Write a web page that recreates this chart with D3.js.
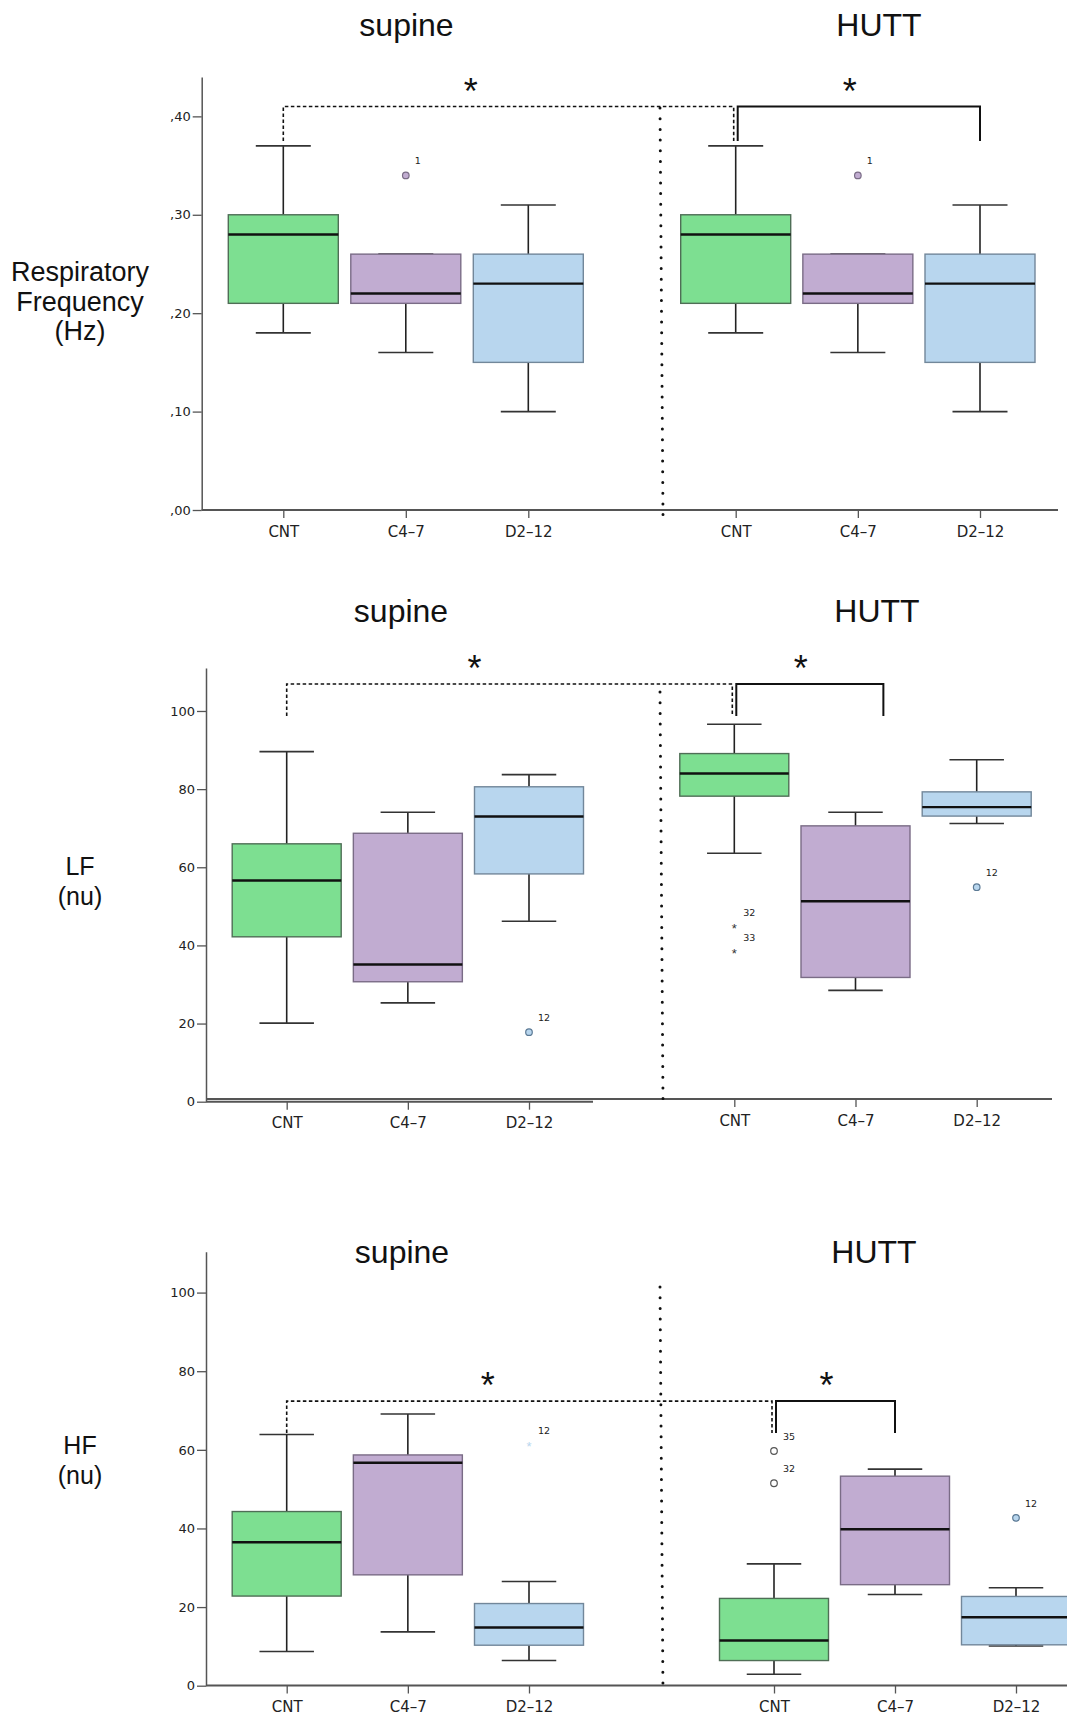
<!DOCTYPE html>
<html>
<head>
<meta charset="utf-8">
<script src="https://cdn.jsdelivr.net/npm/d3@7"></script>
<style>
  body { margin: 0; background: #fff; }
  svg { display: block; }
</style>
</head>
<body>
<svg id="chart" width="1067" height="1719"></svg>
<script>
// ---- data -------------------------------------------------------------
const groups = ["CNT", "C4–7", "D2–12"];
const conditions = ["supine", "HUTT"];

// five-number summaries per group: [lower whisker, Q1, median, Q3, upper whisker]
const respSupine = [[0.18, 0.21, 0.28, 0.30, 0.37], [0.16, 0.21, 0.22, 0.26, 0.26], [0.10, 0.15, 0.23, 0.26, 0.31]];
const respHutt   = [[0.18, 0.21, 0.28, 0.30, 0.37], [0.16, 0.21, 0.22, 0.26, 0.26], [0.10, 0.15, 0.23, 0.26, 0.31]];
const lfSupine   = [[20.1, 42.2, 56.6, 66.0, 89.6], [25.3, 30.7, 35.1, 68.7, 74.1], [46.2, 58.3, 73.0, 80.6, 83.7]];
const lfHutt     = [[63.6, 78.2, 84.0, 89.1, 96.6], [28.5, 31.8, 51.3, 70.6, 74.1], [71.2, 73.1, 75.4, 79.3, 87.5]];
const hfSupine   = [[8.7, 22.8, 36.5, 44.3, 63.9], [13.7, 28.2, 56.7, 58.7, 69.1], [6.4, 10.3, 14.8, 20.9, 26.5]];
const hfHutt     = [[2.9, 6.4, 11.5, 22.2, 31.0], [23.2, 25.7, 39.8, 53.3, 55.1], [10.1, 10.4, 17.4, 22.7, 24.9]];

const respTicks = [0, 0.1, 0.2, 0.3, 0.4];
const nuTicks = [0, 20, 40, 60, 80, 100];

// outlying cases: condition, group, value, case number, marker type
const respOutliers = [
  { cond: "supine", group: "C4–7", value: 0.34, label: "1", mark: "dot" },
  { cond: "HUTT",   group: "C4–7", value: 0.34, label: "1", mark: "dot" }
];
const lfOutliers = [
  { cond: "supine", group: "D2–12", value: 17.8, label: "12", mark: "dot" },
  { cond: "HUTT",   group: "CNT",   value: 44.7, label: "32", mark: "star" },
  { cond: "HUTT",   group: "CNT",   value: 38.2, label: "33", mark: "star" },
  { cond: "HUTT",   group: "D2–12", value: 54.9, label: "12", mark: "dot" }
];
const hfOutliers = [
  { cond: "supine", group: "D2–12", value: 61.2, label: "12", mark: "faint" },
  { cond: "HUTT",   group: "CNT",   value: 59.7, label: "35", mark: "open" },
  { cond: "HUTT",   group: "CNT",   value: 51.5, label: "32", mark: "open" },
  { cond: "HUTT",   group: "D2–12", value: 42.7, label: "12", mark: "dot" }
];

// significance brackets: bracket height and leg end in data units,
// solid bracket end as a group index on the HUTT side, supine star as a group index
const respSig = { level: 0.41, legEnd: 0.375, solidTo: 2, starAt: 1.53 };
const lfSig   = { level: 106.9, legEnd: 98.7, solidTo: 1.23, starAt: 1.55 };
const hfSig   = { level: 72.4, legEnd: 64.3, solidTo: 1, starAt: 1.66 };

// ---- styling ----------------------------------------------------------
const fills   = ["#7ddf91", "#c1acd1", "#b8d6ee"];
const strokes = ["#4f6e56", "#7a6c86", "#72879a"];
const dotStroke = ["#555", "#7a6c86", "#5c7a95"];
const titleFont = "'Liberation Sans', Arial, Helvetica, sans-serif";
const tickFont = "'DejaVu Sans', Verdana, sans-serif";

const commaFmt = d => d3.format(".2f")(d).replace("0.", ",");

const panels = [
  { summaries: [respSupine, respHutt], outliers: respOutliers, sig: respSig,
    ticks: respTicks, fmt: commaFmt, yMax: 0.44,
    axisX: 201.7, top: 77, zero: 510, ranges: [[283.3, 528.3], [735.7, 980]], boxW: 110,
    titleY: 36, titleX: [406.5, 879],
    yLabel: ["Respiratory", "Frequency", "(Hz)"], yLabelY: 281, yLabelSize: 27, yLabelGap: 29.5,
    sep: [108, 515],
    baselines: [[201.7, 1058, 510]], tickBase: [510, 510] },
  { summaries: [lfSupine, lfHutt], outliers: lfOutliers, sig: lfSig,
    ticks: nuTicks, fmt: d3.format("d"), yMax: 111,
    axisX: 206, top: 668, zero: 1101.7, ranges: [[286.7, 529], [734.3, 976.7]], boxW: 109,
    titleY: 621.5, titleX: [401, 877],
    yLabel: ["LF", "(nu)"], yLabelY: 875, yLabelSize: 25, yLabelGap: 30,
    sep: [692, 1099],
    baselines: [[206, 593, 1101.7], [206, 1052, 1099]], tickBase: [1101.7, 1099] },
  { summaries: [hfSupine, hfHutt], outliers: hfOutliers, sig: hfSig,
    ticks: nuTicks, fmt: d3.format("d"), yMax: 110.4,
    axisX: 206, top: 1251.7, zero: 1685.7, ranges: [[286.7, 529], [774, 1016]], boxW: 109,
    titleY: 1263, titleX: [402, 874],
    yLabel: ["HF", "(nu)"], yLabelY: 1454, yLabelSize: 25, yLabelGap: 30,
    sep: [1287, 1693],
    baselines: [[206, 1067, 1685.5]], tickBase: [1685.5, 1685.5] }
];

const svg = d3.select("#chart");
svg.append("rect").attr("width", 1067).attr("height", 1719).attr("fill", "#fff");

panels.forEach(p => {
  const g = svg.append("g");
  const y = d3.scaleLinear().domain([0, p.yMax]).range([p.zero, p.top]);
  const xs = p.ranges.map(r => d3.scalePoint().domain(groups).range(r));
  const xi = p.ranges.map(r => d3.scaleLinear().domain([0, groups.length - 1]).range(r));

  // condition titles
  conditions.forEach((c, ci) => {
    g.append("text").attr("x", p.titleX[ci]).attr("y", p.titleY)
      .attr("text-anchor", "middle").attr("font-family", titleFont)
      .attr("font-size", 32).attr("fill", "#111").text(c);
  });

  // y label
  const yl = g.append("text").attr("font-family", titleFont).attr("font-size", p.yLabelSize)
    .attr("fill", "#111").attr("text-anchor", "middle");
  p.yLabel.forEach((t, i) => {
    yl.append("tspan").attr("x", 80).attr("y", p.yLabelY + i * p.yLabelGap).text(t);
  });

  // y axis
  const yAxis = d3.axisLeft(y).tickValues(p.ticks).tickFormat(p.fmt)
    .tickSize(9).tickSizeOuter(0).tickPadding(2);
  const ya = g.append("g").attr("transform", `translate(${p.axisX},0)`).call(yAxis);
  ya.select(".domain").attr("stroke", "#555").attr("stroke-width", 1.5);
  ya.selectAll(".tick line").attr("stroke", "#555").attr("stroke-width", 1.3);
  ya.selectAll(".tick text").attr("font-family", tickFont).attr("font-size", 13).attr("fill", "#222");

  // baselines
  p.baselines.forEach(b => {
    g.append("line").attr("x1", b[0]).attr("x2", b[1]).attr("y1", b[2]).attr("y2", b[2])
      .attr("stroke", "#555").attr("stroke-width", 2);
  });

  // x axes for each condition
  xs.forEach((x, ci) => {
    const xAxis = d3.axisBottom(x).tickSize(8).tickSizeOuter(0).tickPadding(8);
    const xa = g.append("g").attr("transform", `translate(0,${p.tickBase[ci]})`).call(xAxis);
    xa.select(".domain").remove();
    xa.selectAll(".tick line").attr("stroke", "#555").attr("stroke-width", 1.3);
    xa.selectAll(".tick text").attr("font-family", tickFont).attr("font-size", 15).attr("fill", "#222");
  });

  // boxes
  p.summaries.forEach((series, ci) => {
    const x = xs[ci];
    series.forEach((s, gi) => {
      const cx = x(groups[gi]);
      const [lo, q1, med, q3, hi] = s;
      const bw = p.boxW, cw = bw / 2;
      const bg = g.append("g");
      bg.append("line").attr("x1", cx).attr("x2", cx).attr("y1", y(hi)).attr("y2", y(q3))
        .attr("stroke", "#222").attr("stroke-width", 1.6);
      bg.append("line").attr("x1", cx).attr("x2", cx).attr("y1", y(q1)).attr("y2", y(lo))
        .attr("stroke", "#222").attr("stroke-width", 1.6);
      [hi, lo].forEach(v => {
        bg.append("line").attr("x1", cx - cw / 2).attr("x2", cx + cw / 2).attr("y1", y(v)).attr("y2", y(v))
          .attr("stroke", "#333").attr("stroke-width", 1.6);
      });
      bg.append("rect").attr("x", cx - bw / 2).attr("width", bw)
        .attr("y", y(q3)).attr("height", y(q1) - y(q3))
        .attr("fill", fills[gi]).attr("stroke", strokes[gi]).attr("stroke-width", 1.4);
      bg.append("line").attr("x1", cx - bw / 2).attr("x2", cx + bw / 2).attr("y1", y(med)).attr("y2", y(med))
        .attr("stroke", "#111").attr("stroke-width", 2.4);
    });
  });

  // outliers
  p.outliers.forEach(o => {
    const ci = conditions.indexOf(o.cond), gi = groups.indexOf(o.group);
    const cx = xs[ci](o.group), cy = y(o.value);
    if (o.mark === "dot" || o.mark === "open") {
      g.append("circle").attr("cx", cx).attr("cy", cy).attr("r", 3.3)
        .attr("fill", o.mark === "open" ? "#fff" : fills[gi])
        .attr("stroke", o.mark === "open" ? "#555" : dotStroke[gi]).attr("stroke-width", 1.2);
    } else {
      g.append("text").attr("x", cx).attr("y", cy + 5.5).attr("text-anchor", "middle")
        .attr("font-family", titleFont).attr("font-size", 13)
        .attr("fill", o.mark === "faint" ? "#b8d6ee" : "#333").text("*");
    }
    g.append("text").attr("x", cx + 9).attr("y", cy - 11)
      .attr("font-family", tickFont).attr("font-size", 9.5).attr("fill", "#222").text(o.label);
  });

  // separator between conditions
  g.append("line").attr("x1", 660).attr("x2", 663).attr("y1", p.sep[0]).attr("y2", p.sep[1])
    .attr("stroke", "#111").attr("stroke-width", 3).attr("stroke-linecap", "round")
    .attr("stroke-dasharray", "0,10.7");

  // significance brackets
  const s = p.sig;
  const yTop = y(s.level), yLeg = y(s.legEnd);
  const xSupCnt = xi[0](0), xHutCnt = xi[1](0), xEnd = xi[1](s.solidTo);
  g.append("path")
    .attr("d", `M${xSupCnt},${yLeg}V${yTop}H${xHutCnt - 2}V${yLeg}`)
    .attr("fill", "none").attr("stroke", "#111").attr("stroke-width", 1.6)
    .attr("stroke-dasharray", "3.5,2.5");
  g.append("path")
    .attr("d", `M${xHutCnt + 2},${yLeg}V${yTop}H${xEnd}V${yLeg}`)
    .attr("fill", "none").attr("stroke", "#111").attr("stroke-width", 2);
  [xi[0](s.starAt), (xHutCnt + 2 + xEnd) / 2 - 9].forEach(sx => {
    g.append("text").attr("x", sx).attr("y", yTop - 23 + 20).attr("text-anchor", "middle")
      .attr("font-family", titleFont).attr("font-size", 36)
      .attr("fill", "#111").text("*");
  });
});
</script>
</body>
</html>
